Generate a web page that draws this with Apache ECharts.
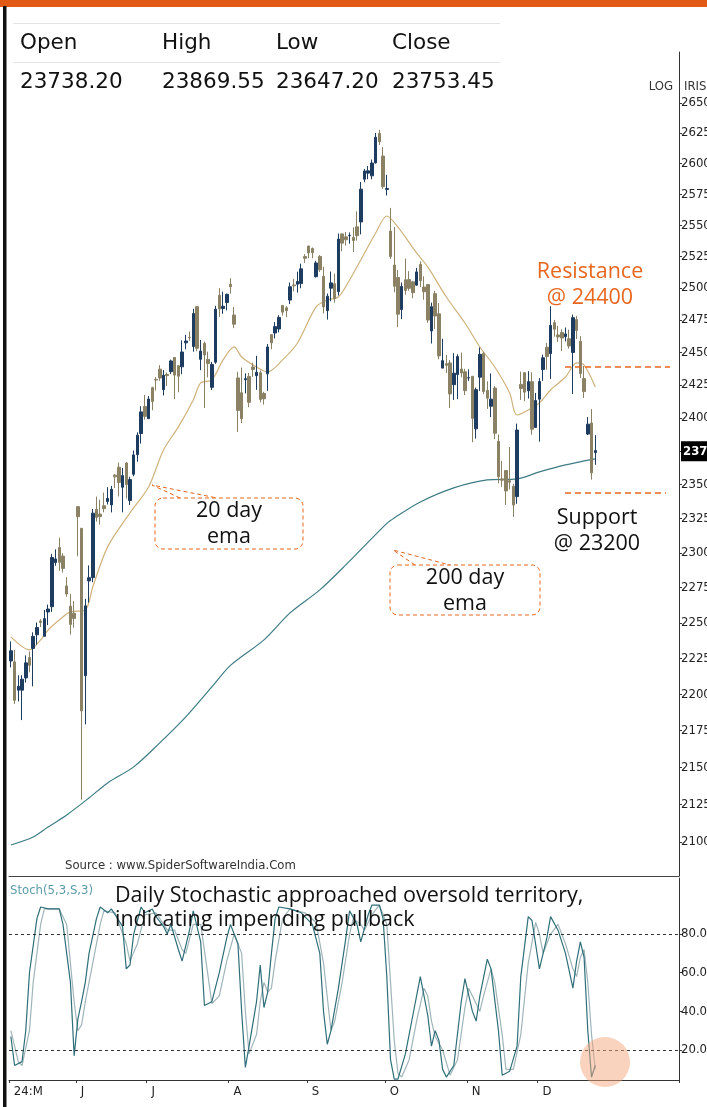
<!DOCTYPE html>
<html><head><meta charset="utf-8">
<script src="https://cdn.jsdelivr.net/npm/echarts@6/dist/echarts.min.js"></script>
<style>html,body{margin:0;padding:0;background:#fff}#c{width:707px;height:1107px}</style>
</head><body><div id="c"></div>
<script>
// ---------- DATA ----------
const dates = [
'2024-05-08','2024-05-09','2024-05-10','2024-05-13','2024-05-14','2024-05-15','2024-05-16','2024-05-17','2024-05-18','2024-05-21','2024-05-22','2024-05-23','2024-05-24','2024-05-27','2024-05-28','2024-05-29','2024-05-30','2024-05-31',
'2024-06-03','2024-06-04','2024-06-05','2024-06-06','2024-06-07','2024-06-10','2024-06-11','2024-06-12','2024-06-13','2024-06-14','2024-06-18','2024-06-19','2024-06-20','2024-06-21','2024-06-24','2024-06-25','2024-06-26','2024-06-27','2024-06-28',
'2024-07-01','2024-07-02','2024-07-03','2024-07-04','2024-07-05','2024-07-08','2024-07-09','2024-07-10','2024-07-11','2024-07-12','2024-07-15','2024-07-16','2024-07-18','2024-07-19','2024-07-22','2024-07-23','2024-07-24','2024-07-25','2024-07-26','2024-07-29','2024-07-30','2024-07-31',
'2024-08-01','2024-08-02','2024-08-05','2024-08-06','2024-08-07','2024-08-08','2024-08-09','2024-08-12','2024-08-13','2024-08-14','2024-08-16','2024-08-19','2024-08-20','2024-08-21','2024-08-22','2024-08-23','2024-08-26','2024-08-27','2024-08-28','2024-08-29','2024-08-30',
'2024-09-02','2024-09-03','2024-09-04','2024-09-05','2024-09-06','2024-09-09','2024-09-10','2024-09-11','2024-09-12','2024-09-13','2024-09-16','2024-09-17','2024-09-18','2024-09-19','2024-09-20','2024-09-23','2024-09-24','2024-09-25','2024-09-26','2024-09-27','2024-09-30',
'2024-10-01','2024-10-03','2024-10-04','2024-10-07','2024-10-08','2024-10-09','2024-10-10','2024-10-11','2024-10-14','2024-10-15','2024-10-16','2024-10-17','2024-10-18','2024-10-21','2024-10-22','2024-10-23','2024-10-24','2024-10-25','2024-10-28','2024-10-29','2024-10-30','2024-10-31',
'2024-11-01','2024-11-04','2024-11-05','2024-11-06','2024-11-07','2024-11-08','2024-11-11','2024-11-12','2024-11-13','2024-11-14','2024-11-18','2024-11-19','2024-11-21','2024-11-22','2024-11-25','2024-11-26','2024-11-27','2024-11-28','2024-11-29',
'2024-12-02','2024-12-03','2024-12-04','2024-12-05','2024-12-06','2024-12-09','2024-12-10','2024-12-11','2024-12-12','2024-12-13','2024-12-16','2024-12-17','2024-12-18','2024-12-19','2024-12-20','2024-12-23'
];
// [open, high, low, close]
const ohlc = [
[22231.20,22368.65,22185.85,22302.50],[22224.80,22307.75,21932.40,21957.50],[22027.95,22131.30,21950.30,22055.20],[22027.95,22131.65,21821.05,22104.05],[22112.90,22270.05,22081.25,22217.85],[22255.60,22297.55,22151.75,22200.55],[22319.20,22432.25,22054.55,22403.85],[22415.25,22502.15,22345.65,22466.10],[22512.85,22525.65,22470.00,22502.00],[22404.55,22591.10,22404.55,22529.05],[22576.60,22629.50,22483.15,22597.80],[22614.10,22993.60,22577.45,22967.65],[22930.75,23026.40,22908.00,22957.10],[23038.95,23110.80,22871.20,22932.45],[22977.15,22998.55,22858.50,22888.15],[22762.75,22825.50,22685.45,22704.70],[22617.45,22705.75,22417.00,22488.65],[22568.10,22653.75,22465.10,22530.70],
[23337.90,23338.70,22975.90,23263.90],[23179.50,23179.50,21281.45,21884.50],[22128.35,22670.40,21791.95,22620.35],[22798.60,22910.15,22642.60,22821.40],[22821.85,23320.20,22789.05,23290.15],[23319.15,23411.90,23227.60,23259.20],[23283.75,23389.45,23206.65,23264.85],[23344.45,23441.95,23295.95,23322.95],[23375.25,23481.05,23353.70,23398.90],[23350.80,23490.40,23295.35,23465.60],[23570.55,23579.05,23475.35,23557.90],[23629.65,23664.00,23412.90,23516.00],[23481.05,23624.00,23295.95,23567.00],[23661.15,23667.10,23398.20,23501.10],[23382.60,23558.35,23350.00,23537.85],[23577.10,23754.15,23562.05,23721.30],[23723.10,23889.90,23670.70,23868.80],[23881.55,24087.45,23805.40,24044.50],[24085.90,24174.00,23985.80,24010.60],
[23992.95,24164.00,23992.70,24141.95],[24228.75,24236.35,24056.40,24123.85],[24291.75,24309.15,24207.10,24286.50],[24369.95,24401.00,24281.00,24302.15],[24213.35,24363.00,24168.85,24323.85],[24329.45,24344.60,24240.55,24320.55],[24351.00,24443.60,24331.90,24433.20],[24459.85,24461.05,24141.80,24324.45],[24396.55,24402.65,24193.75,24315.95],[24387.95,24592.20,24331.15,24502.15],[24572.65,24635.05,24522.75,24586.70],[24615.90,24661.25,24587.65,24613.00],[24543.80,24837.75,24504.45,24800.85],[24853.80,24854.80,24508.15,24530.90],[24445.75,24595.20,24362.30,24509.25],[24568.90,24582.55,24074.20,24479.05],[24444.95,24504.25,24307.25,24413.50],[24230.95,24426.15,24210.80,24406.10],[24423.35,24861.15,24410.90,24834.85],[24943.30,24999.75,24774.60,24836.10],[24839.40,24971.75,24798.65,24857.30],[24886.70,24956.50,24825.70,24951.15],
[25030.95,25078.30,24956.40,25010.90],[24789.00,24851.90,24686.85,24717.70],[24302.85,24350.05,23893.70,24055.60],[24189.85,24382.60,23960.40,23992.55],[24289.40,24337.70,24184.90,24297.50],[24314.70,24340.50,24079.70,24117.00],[24386.85,24419.75,24311.20,24367.50],[24320.05,24472.80,24212.10,24347.00],[24342.35,24359.95,24116.50,24139.00],[24184.40,24196.50,24099.70,24143.75],[24334.85,24563.90,24204.50,24541.15],[24636.35,24638.80,24522.95,24572.65],[24648.90,24734.30,24607.20,24698.85],[24680.55,24787.95,24654.50,24770.20],[24863.40,24867.35,24784.45,24811.50],[24845.40,24858.40,24771.65,24823.15],[24906.10,25043.80,24874.70,25010.60],[25024.80,25073.10,24973.65,25017.75],[25030.80,25129.60,24964.65,25052.35],[25035.30,25192.90,24998.50,25151.95],[25249.70,25268.35,25199.40,25235.90],
[25333.60,25333.65,25235.50,25278.70],[25313.40,25321.70,25235.80,25279.85],[25089.95,25216.00,25083.80,25198.70],[25250.50,25260.75,25127.75,25145.10],[25093.70,25168.75,24801.30,24852.15],[24823.40,24957.50,24753.15,24936.40],[24999.40,25130.50,24896.80,25041.10],[25034.00,25113.70,24885.15,24918.45],[24972.25,25433.35,24941.45,25388.90],[25430.45,25430.50,25292.45,25356.50],[25406.65,25445.70,25336.20,25383.75],[25416.90,25441.65,25352.25,25418.55],[25402.40,25482.20,25285.55,25377.55],[25487.05,25611.95,25376.05,25415.80],[25525.95,25849.25,25426.60,25790.95],[25872.55,25956.00,25847.35,25939.05],[25921.45,25978.90,25871.45,25940.40],[25899.45,26032.80,25871.35,26004.15],[26005.40,26250.90,25998.40,26216.05],[26248.25,26277.35,26151.40,26178.95],[26061.30,26134.70,25794.10,25810.85],
[25788.45,25907.60,25739.20,25796.90],[25452.85,25639.45,25230.30,25250.10],[25181.90,25485.05,24966.80,25014.60],[25084.10,25143.00,24694.35,24795.75],[24832.20,25044.00,24756.80,25013.15],[25065.80,25234.05,24947.70,24981.95],[25067.05,25134.05,24979.40,24998.45],[25049.55,25056.60,24920.10,24964.25],[25023.45,25159.75,25017.50,25127.95],[25186.30,25212.05,25008.15,25057.35],[25008.55,25093.40,24908.45,24971.30],[25027.40,25029.50,24728.90,24749.85],[24664.95,24886.20,24567.65,24854.05],[24956.15,24978.30,24679.60,24781.10],[24798.65,24882.00,24445.80,24472.10],[24378.15,24604.25,24378.10,24435.50],[24412.70,24480.65,24341.20,24399.40],[24418.05,24440.25,24073.90,24180.80],[24251.10,24492.60,24134.90,24339.15],[24328.85,24484.50,24140.85,24466.85],[24371.45,24498.20,24307.30,24340.85],[24349.85,24372.45,24172.60,24205.35],
[24302.75,24368.25,24280.20,24304.35],[24315.75,24316.75,23816.15,23995.35],[23916.50,24229.05,23842.75,24213.30],[24308.75,24537.60,24204.05,24484.05],[24489.60,24503.35,24179.05,24199.35],[24207.70,24276.15,24066.65,24148.20],[24087.25,24336.80,24004.60,24141.30],[24225.80,24242.00,23839.15,23883.45],[23822.45,23873.60,23509.60,23559.05],[23542.15,23675.90,23484.15,23532.70],[23605.30,23606.80,23350.40,23453.80],[23529.55,23780.65,23464.80,23518.50],[23488.45,23507.30,23263.15,23349.90],[23411.80,23956.10,23359.00,23907.25],[24253.55,24351.55,24135.45,24221.90],[24343.30,24343.30,24125.40,24194.50],[24204.80,24354.55,24145.65,24274.90],[24274.15,24345.75,23873.35,23914.15],[23927.15,24188.45,23927.15,24131.10],
[24140.85,24301.70,23820.30,24275.70],[24367.50,24481.35,24280.00,24457.15],[24539.15,24573.20,24366.30,24467.45],[24489.55,24857.75,24295.55,24708.40],[24729.45,24751.05,24620.50,24677.80],[24633.90,24705.00,24580.05,24619.00],[24652.65,24677.80,24510.65,24610.05],[24620.50,24691.75,24583.85,24641.80],[24604.45,24675.25,24527.95,24548.70],[24498.35,24792.30,24180.80,24768.30],[24753.40,24781.25,24601.75,24668.25],[24584.80,24624.10,24303.45,24336.00],[24297.95,24394.45,24149.85,24198.85],[23877.15,24004.90,23870.30,23951.70],[23960.70,24065.80,23537.35,23587.50],[23738.20,23869.55,23647.20,23753.45]
];
// EMA lines: [bar index, price]
const ema20 = [[0,22400],[5,22309],[8,22379],[10,22449],[13,22520],[16,22577],[20,22591],[22,22755],[26,23044],[32,23292],[37,23483],[41,23758],[45,23931],[49,24135],[51,24265],[54,24288],[57,24441],[60,24541],[62,24464],[66,24387],[69,24349],[73,24441],[77,24572],[82,24852],[85,24907],[88,24930],[91,25064],[94,25222],[98,25437],[101,25574],[104,25485],[109,25278],[112,25167],[117,24930],[122,24727],[126,24541],[130,24387],[134,24188],[136,24021],[140,24074],[142,24112],[145,24211],[149,24310],[152,24418],[154,24402],[157,24234]];
const ema200 = [[0,20980],[6,21033],[10,21099],[15,21179],[21,21293],[26,21394],[33,21502],[40,21665],[47,21843],[54,22050],[59,22200],[68,22379],[75,22570],[83,22734],[90,22914],[101,23215],[103,23255],[110,23372],[119,23476],[128,23535],[136,23543],[142,23595],[149,23647],[157,23692]];
// Stochastic (5,3,S,3): [bar index, value]
const stochK = [[0,27],[1,12],[3,14],[4,30],[5,60],[7,88],[8,94],[10,93],[13,93],[14,85],[16,55],[17,17],[18,36],[19,45],[20,55],[21,70],[23,88],[24,94],[26,91],[27,93],[28,90],[30,84],[31,62],[32,64],[33,80],[35,94],[36,91],[38,93],[39,89],[41,84],[42,80],[43,85],[45,72],[46,66],[48,82],[49,92],[51,76],[52,43],[54,45],[56,60],[58,78],[59,85],[61,75],[62,40],[63,11],[64,22],[66,45],[67,64],[68,42],[69,50],[70,70],[71,88],[72,94],[75,93],[78,91],[81,85],[83,70],[84,40],[85,23],[86,30],[88,52],[90,78],[91,92],[93,85],[94,76],[96,90],[97,95],[99,95],[100,88],[101,58],[102,15],[103,5],[104,5],[106,18],[108,38],[110,58],[112,38],[113,22],[114,30],[115,25],[116,10],[117,6],[119,12],[121,45],[122,57],[124,40],[125,35],[126,48],[128,67],[129,62],[131,30],[132,7],[134,9],[136,22],[137,58],[139,89],[140,87],[142,62],[144,78],[145,89],[147,82],[149,70],[151,52],[152,66],[153,76],[154,68],[155,30],[156,6],[157,12]];
const stochD = [[0,30],[2,14],[3,12],[5,30],[6,55],[8,85],[9,93],[13,93],[15,85],[17,45],[18,30],[19,33],[20,45],[22,65],[24,85],[25,92],[28,91],[31,75],[32,66],[34,75],[36,90],[39,91],[42,82],[44,82],[46,72],[47,70],[49,85],[51,85],[53,58],[54,44],[56,48],[58,66],[60,80],[62,70],[63,40],[64,18],[66,28],[67,45],[68,55],[69,50],[70,52],[71,66],[73,88],[75,93],[79,91],[82,86],[84,65],[86,30],[87,35],[89,55],[91,80],[92,88],[94,85],[95,82],[97,90],[99,95],[101,85],[102,55],[103,25],[104,8],[105,6],[107,15],[109,35],[111,52],[112,48],[113,35],[114,27],[116,20],[118,7],[120,15],[122,42],[123,52],[124,48],[126,40],[127,48],[129,62],[130,55],[132,28],[133,10],[135,10],[137,28],[139,65],[141,86],[142,80],[143,70],[145,80],[147,85],[149,75],[151,62],[152,58],[153,68],[154,72],[155,55],[156,28],[157,10]];
const priceTicks = [21000,21250,21500,21750,22000,22250,22500,22750,23000,23250,23500,23750,24000,24250,24500,24750,25000,25250,25500,25750,26000,26250,26500];
const stochTicks = [20,40,60,80];
const stochLevels = [20,80];
const monthTickLabels = ['24:M','J','J','A','S','O','N','D'];
const headerLabels = ['Open','High','Low','Close'];

// ---------- BUILD ----------
const BLANK = 22;
const cats = dates.concat(Array.from({length:BLANK},(_,i)=>'pad'+i));
const monthStart = new Set();
dates.forEach((d,i)=>{ if(i===0 || d.slice(5,7)!==dates[i-1].slice(5,7)) monthStart.add(i); });
const monthIdx = Array.from(monthStart);
const L = Math.log;
const candleData = ohlc.map(r=>[L(r[0]),L(r[3]),L(r[2]),L(r[1])]);
const last = ohlc[ohlc.length-1];

const condFont = '"DejaVu Sans Condensed","Liberation Sans Narrow","DejaVu Sans",sans-serif';
const annFont = '"Open Sans", "Noto Sans", sans-serif';
const ORANGE = '#E8671F';
const AF = '21.5px '+annFont;

const chart = echarts.init(document.getElementById('c'), null, {renderer:'canvas'});
const gfx = [];
gfx.push({type:'rect', shape:{x:0,y:0,width:707,height:7}, style:{fill:'#E25B16'}, z:100});
gfx.push({type:'rect', shape:{x:3,y:6,width:3.5,height:1101}, style:{fill:'#111'}, z:100});
gfx.push({type:'line', shape:{x1:13,y1:23.5,x2:500,y2:23.5}, style:{stroke:'#e3e3e3',lineWidth:1}});
gfx.push({type:'line', shape:{x1:13,y1:62.5,x2:500,y2:62.5}, style:{stroke:'#e3e3e3',lineWidth:1}});
const colX = [20,162,276,392];
const vals = [last[0],last[1],last[2],last[3]];
headerLabels.forEach((t,i)=>{
  gfx.push({type:'text', style:{text:t, x:colX[i], y:43, font:'21.5px "DejaVu Sans"', fill:'#111', verticalAlign:'middle'}});
  gfx.push({type:'text', style:{text:vals[i].toFixed(2), x:colX[i], y:82, font:'21.5px "DejaVu Sans"', fill:'#111', verticalAlign:'middle'}});
});
gfx.push({type:'text', style:{text:'LOG', x:673, y:87, font:'13px '+condFont, fill:'#333', align:'right', verticalAlign:'middle'}});
gfx.push({type:'text', style:{text:'IRIS', x:684, y:87, font:'13px '+condFont, fill:'#333', verticalAlign:'middle'}});
gfx.push({type:'line', shape:{x1:679.5,y1:75,x2:679.5,y2:95}, style:{stroke:'#333',lineWidth:1}});
// resistance
gfx.push({type:'text', style:{text:'Resistance', x:590, y:272, font:AF, fill:ORANGE, align:'center', verticalAlign:'middle'}, z:50});
gfx.push({type:'text', style:{text:'@ 24400', x:590, y:298, font:AF, fill:ORANGE, align:'center', verticalAlign:'middle'}, z:50});
gfx.push({type:'line', shape:{x1:565,y1:367,x2:670,y2:367}, style:{stroke:ORANGE,lineWidth:1.3,lineDash:[6,4]}, z:50});
// support
gfx.push({type:'line', shape:{x1:565,y1:493,x2:666,y2:493}, style:{stroke:ORANGE,lineWidth:1.3,lineDash:[6,4]}, z:50});
gfx.push({type:'text', style:{text:'Support', x:597, y:518, font:AF, fill:'#111', align:'center', verticalAlign:'middle'}, z:50});
gfx.push({type:'text', style:{text:'@ 23200', x:597, y:544, font:AF, fill:'#111', align:'center', verticalAlign:'middle'}, z:50});
// 20 day ema callout
gfx.push({type:'rect', shape:{x:155,y:498,width:148,height:51,r:8}, style:{fill:'rgba(255,255,255,0)',stroke:ORANGE,lineWidth:1,lineDash:[4,3]}, z:50});
gfx.push({type:'polyline', shape:{points:[[180,498],[152,485],[217,498]]}, style:{fill:null,stroke:ORANGE,lineWidth:1,lineDash:[4,3]}, z:50});
gfx.push({type:'text', style:{text:'20 day', x:229, y:511, font:AF, fill:'#111', align:'center', verticalAlign:'middle'}, z:50});
gfx.push({type:'text', style:{text:'ema', x:229, y:537, font:AF, fill:'#111', align:'center', verticalAlign:'middle'}, z:50});
// 200 day ema callout
gfx.push({type:'rect', shape:{x:390,y:565,width:150,height:50,r:8}, style:{fill:'rgba(255,255,255,0)',stroke:ORANGE,lineWidth:1,lineDash:[4,3]}, z:50});
gfx.push({type:'polyline', shape:{points:[[415,565],[393,550],[450,565]]}, style:{fill:null,stroke:ORANGE,lineWidth:1,lineDash:[4,3]}, z:50});
gfx.push({type:'text', style:{text:'200 day', x:465, y:578, font:AF, fill:'#111', align:'center', verticalAlign:'middle'}, z:50});
gfx.push({type:'text', style:{text:'ema', x:465, y:604, font:AF, fill:'#111', align:'center', verticalAlign:'middle'}, z:50});
// source + stoch title + annotation
gfx.push({type:'text', style:{text:'Source : www.SpiderSoftwareIndia.Com', x:65, y:866, font:'13px '+condFont, fill:'#333', verticalAlign:'middle'}, z:50});
gfx.push({type:'text', style:{text:'Stoch(5,3,S,3)', x:10, y:891, font:'13px '+condFont, fill:'#5b9ca8', verticalAlign:'middle'}, z:50});
gfx.push({type:'text', style:{text:'Daily Stochastic approached oversold territory,', x:115, y:896, font:AF, fill:'#111', verticalAlign:'middle'}, z:50});
gfx.push({type:'text', style:{text:'indicating impending pullback', x:115, y:920, font:AF, fill:'#111', verticalAlign:'middle'}, z:50});
gfx.push({type:'circle', shape:{cx:605,cy:1062,r:25}, style:{fill:'rgba(243,168,125,0.5)'}, z:50});

const option = {
  animation:false,
  backgroundColor:'#fff',
  graphic: gfx,
  grid:[
    {left:9, right:28, top:52, height:824, outerBoundsMode:'none', containLabel:false},
    {left:9, right:28, top:878, height:202, outerBoundsMode:'none', containLabel:false}
  ],
  xAxis:[
    {type:'category', gridIndex:0, data:cats, boundaryGap:true,
     axisLine:{show:true, lineStyle:{color:'#444', width:1}}, axisTick:{show:false}, axisLabel:{show:false}, splitLine:{show:false}},
    {type:'category', gridIndex:1, data:cats, boundaryGap:true,
     axisLine:{show:true, lineStyle:{color:'#333', width:1}},
     axisTick:{show:true, length:3, interval:(i)=>monthStart.has(i), lineStyle:{color:'#333'}},
     axisLabel:{show:true, interval:(i)=>monthStart.has(i), align:'left', margin:5, padding:[0,0,0,3],
       formatter:(v,i)=>{const k=monthIdx.indexOf(i); return k>=0?monthTickLabels[k]:'';},
       fontFamily:condFont, fontSize:13, color:'#222'},
     splitLine:{show:false}}
  ],
  yAxis:[
    {type:'value', gridIndex:0, position:'right', min:L(20776), max:L(26929), scale:true,
     axisLine:{show:true, lineStyle:{color:'#333'}},
     axisTick:{show:true, length:3, customValues:priceTicks.map(L), lineStyle:{color:'#333'}},
     axisLabel:{show:true, customValues:priceTicks.map(L), margin:2, formatter:(v)=>String(Math.round(Math.exp(v))),
       fontFamily:condFont, fontSize:13, color:'#222'},
     splitLine:{show:false}},
    {type:'value', gridIndex:1, position:'right', min:4.5, max:109,
     axisLine:{show:true, lineStyle:{color:'#333'}},
     axisTick:{show:true, length:3, customValues:stochTicks, lineStyle:{color:'#333'}},
     axisLabel:{show:true, customValues:stochTicks, margin:2, formatter:(v)=>Number(v).toFixed(1),
       fontFamily:condFont, fontSize:13, color:'#222'},
     splitLine:{show:false}}
  ],
  series:[
    {type:'line', xAxisIndex:0, yAxisIndex:0, data:ema200.map(p=>[p[0],L(p[1])]), showSymbol:false, smooth:0.3,
     lineStyle:{color:'#3d7c84', width:1.2}, z:1},
    {type:'line', xAxisIndex:0, yAxisIndex:0, data:ema20.map(p=>[p[0],L(p[1])]), showSymbol:false, smooth:0.3,
     lineStyle:{color:'#cfb27c', width:1.2}, z:1},
    {type:'candlestick', xAxisIndex:0, yAxisIndex:0, data:candleData, barWidth:3, clip:false,
     itemStyle:{color:'#1e3c60', color0:'#8b8266', borderColor:'#1e3c60', borderColor0:'#8b8266', borderWidth:1}, z:3,
     markLine:{silent:true, symbol:'none', lineStyle:{color:'rgba(0,0,0,0)', width:0},
       data:[{yAxis:L(last[3])}],
       label:{show:true, position:'end', distance:2, align:'left', verticalAlign:'middle', offset:[0,15],
         formatter:()=>String(Math.floor(last[3])),
         backgroundColor:'#000', color:'#fff', padding:[4,2,3,2], fontFamily:condFont, fontSize:13, fontWeight:'bold'}}},
    {type:'line', xAxisIndex:1, yAxisIndex:1, data:stochD, showSymbol:false,
     lineStyle:{color:'#9fb5b9', width:1.2}, z:2},
    {type:'line', xAxisIndex:1, yAxisIndex:1, data:stochK, showSymbol:false,
     lineStyle:{color:'#2f6f79', width:1.2}, z:3,
     markLine:{silent:true, symbol:'none', label:{show:false},
       lineStyle:{color:'#333', width:1, type:[3,3]},
       data:stochLevels.map(v=>({yAxis:v}))}}
  ]
};
chart.setOption(option);
</script></body></html>
